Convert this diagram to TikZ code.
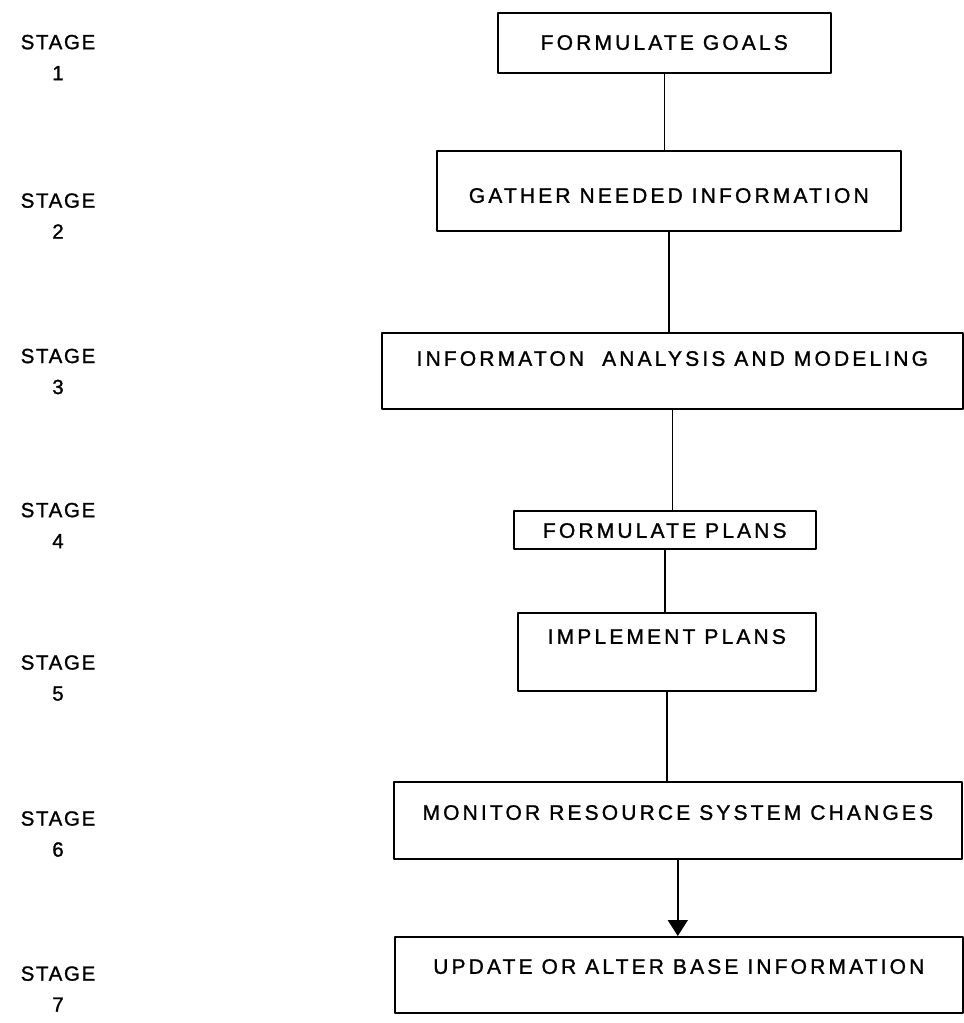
\documentclass[tikz,border=0pt]{standalone}
\usepackage{fontspec}
\setmainfont{Liberation Sans}[LetterSpace=15,FakeBold=1.2]
\newfontfamily\stagefont{Liberation Sans}[LetterSpace=8,FakeBold=1.2]
\usetikzlibrary{arrows.meta}
\begin{document}
\begin{tikzpicture}[
    x=1pt,y=-1pt,
    line cap=round,line join=round,line width=1.6pt,
    stagebox/.style={draw=black,inner sep=0pt,anchor=north west,
        font=\fontsize{21}{25}\selectfont},
    stagelabel/.style={align=center,inner sep=0pt,
        font=\stagefont\fontsize{20.5}{31}\selectfont}
]
    \useasboundingbox (0,0) rectangle (964,1023);
    % the seven boxes, placed by their top left corner
    \node[stagebox,minimum width=333pt,text height=37pt,text depth=23pt]
        (goals) at (497,12) {FORMULATE GOALS};
    \node[stagebox,minimum width=464pt,text height=52pt,text depth=28pt]
        (gather) at (436,150) {GATHER NEEDED INFORMATION};
    \node[stagebox,minimum width=581pt,text height=33pt,text depth=43pt]
        (analysis) at (381,332) {INFORMATON\ \ ANALYSIS AND MODELING};
    \node[stagebox,minimum width=302pt,text height=27pt,text depth=11pt]
        (plans) at (513,510) {FORMULATE PLANS};
    \node[stagebox,minimum width=298pt,text height=31pt,text depth=47pt]
        (implement) at (517,612) {IMPLEMENT PLANS};
    \node[stagebox,minimum width=568pt,text height=38pt,text depth=39pt]
        (monitor) at (393,781) {MONITOR RESOURCE SYSTEM CHANGES};
    \node[stagebox,minimum width=568pt,text height=37pt,text depth=39pt]
        (update) at (394,936) {UPDATE OR ALTER BASE INFORMATION};
    % stage numbers on the left
    \foreach \n/\y in {1/57.5,2/216,3/371.5,4/525.5,5/678,6/834,7/989}
        \node[stagelabel] (stage\n) at (58,\y) {STAGE\\\n};
    % connectors
    \draw (goals.south) -- (goals.south |- gather.north);
    \draw (gather.south) -- (gather.south |- analysis.north);
    \draw (analysis.south) -- (analysis.south |- plans.north);
    \draw (plans.south) -- (plans.south |- implement.north);
    \draw (implement.south) -- (implement.south |- monitor.north);
    \draw[-{Triangle[width=20pt,length=16pt]}]
        (monitor.south) -- (monitor.south |- update.north);
\end{tikzpicture}
\end{document}
